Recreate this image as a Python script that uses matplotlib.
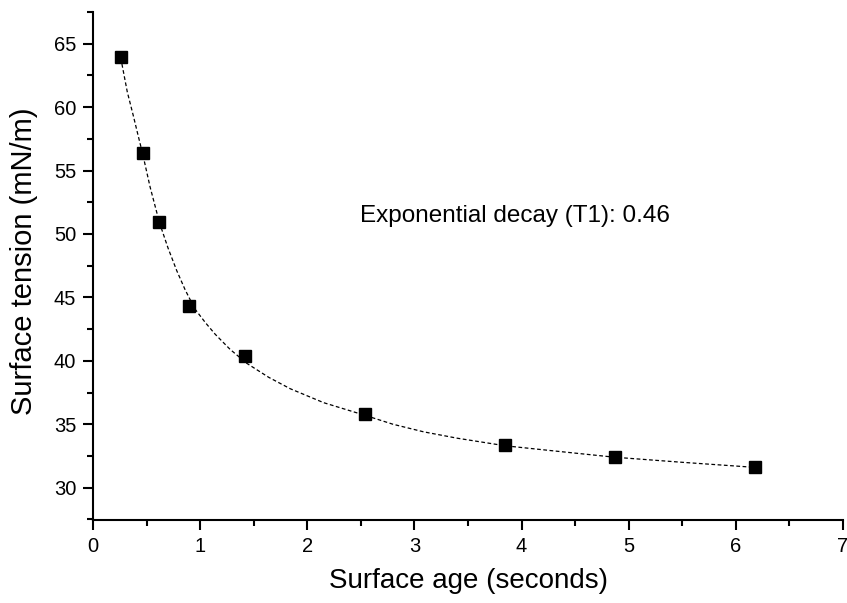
import matplotlib
matplotlib.use("Agg")
import matplotlib.pyplot as plt
from matplotlib.ticker import MultipleLocator

# measured points
age = [0.26, 0.464, 0.62, 0.897, 1.418, 2.539, 3.847, 4.869, 6.175]
tension = [63.95, 56.42, 50.95, 44.35, 40.38, 35.8, 33.37, 32.4, 31.64]

# dashed fit curve
fit_age = [0.27, 0.32, 0.377, 0.42, 0.464, 0.533, 0.62, 0.70, 0.782, 0.86, 0.95,
           1.05, 1.14, 1.28, 1.436, 1.64, 1.841, 2.153, 2.54, 2.8, 3.087,
           3.4, 3.85, 4.3, 4.87, 5.5, 6.18]
fit_tension = [63.4, 61.2, 59.3, 57.8, 56.3, 53.7, 50.9, 48.9, 47.1, 45.6, 44.1,
               43.0, 42.1, 40.9, 39.8, 38.7, 37.8, 36.7, 35.7, 35.0, 34.4,
               33.9, 33.3, 32.9, 32.4, 32.0, 31.6]

annotation = "Exponential decay (T1): 0.46"

plt.rcParams['font.family'] = ['Liberation Sans', 'DejaVu Sans']

fig = plt.figure(figsize=(8.47, 6.03), dpi=100)
ax = fig.add_axes([0.1098, 0.1376, 0.8855, 0.8425])

ax.plot(fit_age, fit_tension, color='black', linestyle=(0, (3, 2)), linewidth=0.9)
ax.plot(age, tension, linestyle='none', marker='s', markersize=8.5, color='black')

ax.text(2.49, 51.4, annotation, fontsize=17.5, va='center', ha='left')

ax.set_xlim(0, 7)
ax.set_ylim(27.45, 67.5)
ax.xaxis.set_major_locator(MultipleLocator(1))
ax.xaxis.set_minor_locator(MultipleLocator(0.5))
ax.yaxis.set_major_locator(MultipleLocator(5))
ax.yaxis.set_minor_locator(MultipleLocator(2.5))
ax.set_yticks([30, 35, 40, 45, 50, 55, 60, 65])

for s in ['top', 'right']:
    ax.spines[s].set_visible(False)
for s in ['left', 'bottom']:
    ax.spines[s].set_linewidth(1.5)

ax.tick_params(which='major', direction='out', length=7, width=1.5, labelsize=14.5, pad=5)
ax.tick_params(which='minor', direction='out', length=4.5, width=1.5)

ax.set_xlabel("Surface age (seconds)", fontsize=20, labelpad=9)
ax.set_ylabel("Surface tension (mN/m)", fontsize=21)
ax.yaxis.set_label_coords(-0.073, 0.51)

fig.savefig("out.png", dpi=100)
